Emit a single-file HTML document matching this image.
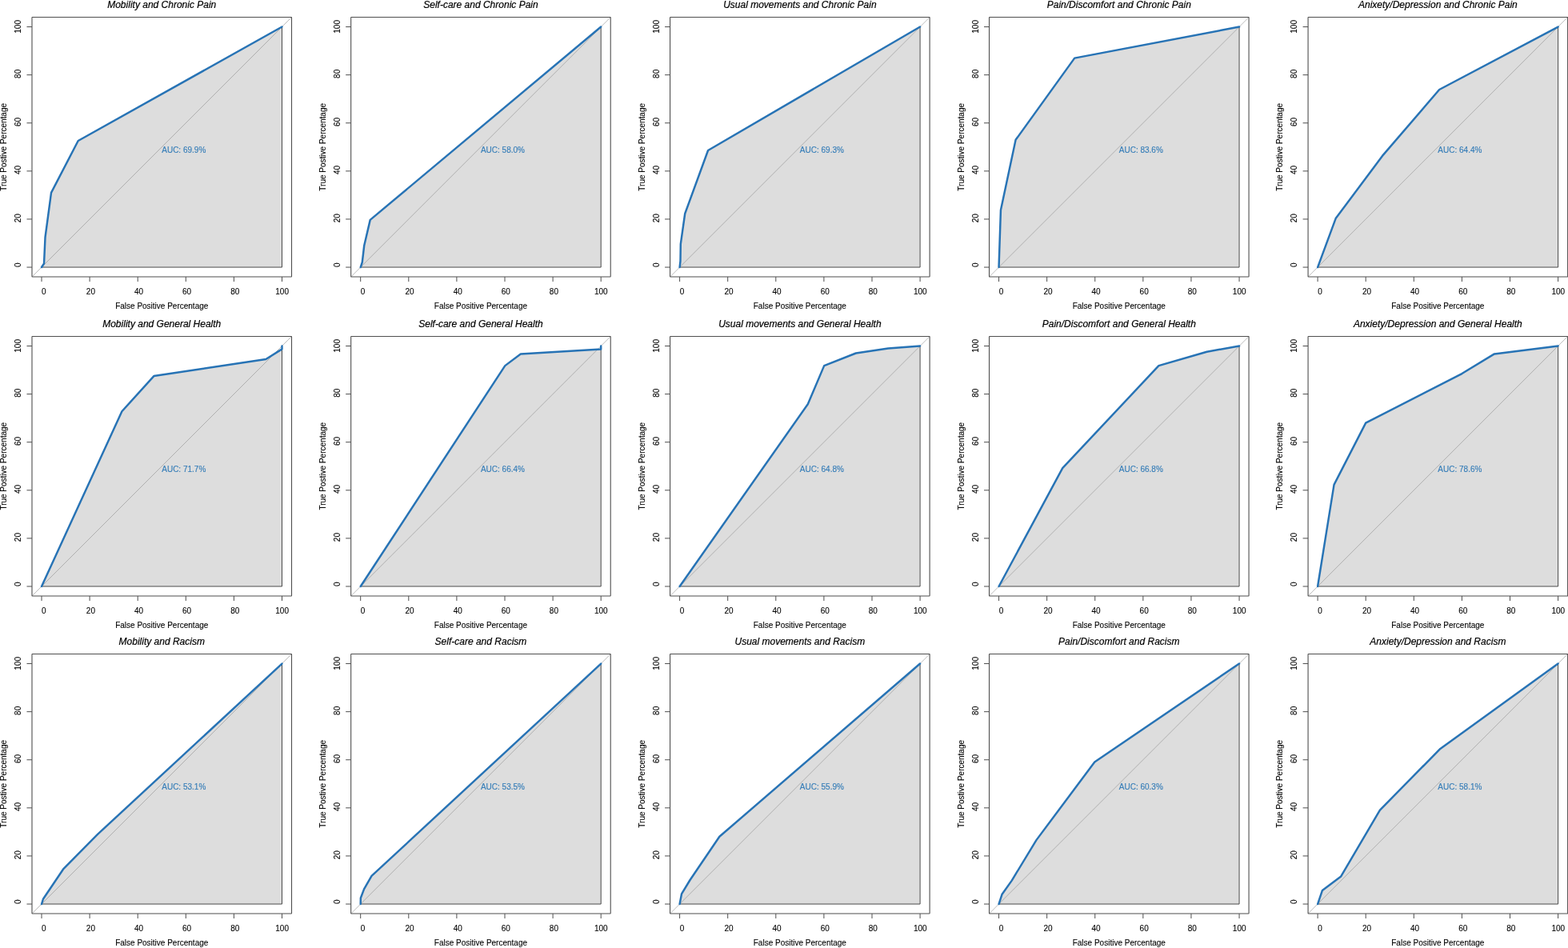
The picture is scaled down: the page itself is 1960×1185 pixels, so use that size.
<!DOCTYPE html>
<html lang="en">
<head>
<meta charset="utf-8">
<title>ROC curves</title>
<style>
html,body{margin:0;padding:0;background:#fff;}
body{width:1960px;height:1185px;overflow:hidden;}
svg{display:block;}
text{font-family:"Liberation Sans",sans-serif;font-size:10px;fill:#000000;stroke:#000000;stroke-width:0.1;}
.t{font-size:12px;font-style:italic;stroke-width:0.2;}
.a{fill:#377eb8;stroke:#377eb8;stroke-width:0.15;}
.bx{fill:none;stroke:#4f4f4f;stroke-width:1.1;}
.tk{fill:none;stroke:#4d4d4d;stroke-width:1;}
.pg{fill:#dddddd;stroke:none;}
.pb{fill:none;stroke:#424242;stroke-width:0.95;stroke-linejoin:round;stroke-linecap:round;}
.dg{fill:none;stroke:#969696;stroke-width:0.65;}
.rc{fill:none;stroke:#2773b5;stroke-width:2.45;stroke-linejoin:round;stroke-linecap:round;}
</style>
</head>
<body>
<svg width="1960" height="1185" viewBox="0 0 1960 1185">
<rect x="0" y="0" width="1960" height="1185" fill="#ffffff"/>
<g>
<text class="t" x="202.25" y="10" text-anchor="middle">Mobility and Chronic Pain</text>
<polygon class="pg" points="52,334.05 55.01,329.54 56.51,296.49 64.02,240.9 97.68,175.99 352.5,33.55 352.5,334.05"/>
<line class="dg" x1="39.98" y1="346.07" x2="364.52" y2="21.53"/>
<polyline class="pb" points="52,334.05 352.5,334.05 352.5,33.55"/>
<polyline class="rc" points="52,334.05 55.01,329.54 56.51,296.49 64.02,240.9 97.68,175.99 352.5,33.55"/>
<rect class="bx" x="39.98" y="21.53" width="324.54" height="324.54" rx="0.5"/>
<path class="tk" d="M52,346.07v6M39.98,334.05h-6.5M112.1,346.07v6M39.98,273.95h-6.5M172.2,346.07v6M39.98,213.85h-6.5M232.3,346.07v6M39.98,153.75h-6.5M292.4,346.07v6M39.98,93.65h-6.5M352.5,346.07v6M39.98,33.55h-6.5"/>
<text x="54.9" y="368" text-anchor="middle">0</text>
<text x="113.4" y="368" text-anchor="middle">20</text>
<text x="173.5" y="368" text-anchor="middle">40</text>
<text x="233.6" y="368" text-anchor="middle">60</text>
<text x="293.7" y="368" text-anchor="middle">80</text>
<text x="352.65" y="368" text-anchor="middle">100</text>
<text transform="translate(26,331.15) rotate(-90)" text-anchor="middle">0</text>
<text transform="translate(26,272.65) rotate(-90)" text-anchor="middle">20</text>
<text transform="translate(26,212.55) rotate(-90)" text-anchor="middle">40</text>
<text transform="translate(26,152.45) rotate(-90)" text-anchor="middle">60</text>
<text transform="translate(26,92.35) rotate(-90)" text-anchor="middle">80</text>
<text transform="translate(26,33.4) rotate(-90)" text-anchor="middle">100</text>
<text x="202.25" y="386" text-anchor="middle">False Positive Percentage</text>
<text transform="translate(8,183.8) rotate(-90)" text-anchor="middle">True Postive Percentage</text>
<text class="a" x="202.25" y="191">AUC: 69.9%</text>
</g>
<g>
<text class="t" x="600.95" y="10" text-anchor="middle">Self-care and Chronic Pain</text>
<polygon class="pg" points="450.7,334.05 452.8,327.74 455.21,307 462.72,274.85 751.2,33.55 751.2,334.05"/>
<line class="dg" x1="438.68" y1="346.07" x2="763.22" y2="21.53"/>
<polyline class="pb" points="450.7,334.05 751.2,334.05 751.2,33.55"/>
<polyline class="rc" points="450.7,334.05 452.8,327.74 455.21,307 462.72,274.85 751.2,33.55"/>
<rect class="bx" x="438.68" y="21.53" width="324.54" height="324.54" rx="0.5"/>
<path class="tk" d="M450.7,346.07v6M438.68,334.05h-6.5M510.8,346.07v6M438.68,273.95h-6.5M570.9,346.07v6M438.68,213.85h-6.5M631,346.07v6M438.68,153.75h-6.5M691.1,346.07v6M438.68,93.65h-6.5M751.2,346.07v6M438.68,33.55h-6.5"/>
<text x="453.6" y="368" text-anchor="middle">0</text>
<text x="512.1" y="368" text-anchor="middle">20</text>
<text x="572.2" y="368" text-anchor="middle">40</text>
<text x="632.3" y="368" text-anchor="middle">60</text>
<text x="692.4" y="368" text-anchor="middle">80</text>
<text x="751.35" y="368" text-anchor="middle">100</text>
<text transform="translate(425,331.15) rotate(-90)" text-anchor="middle">0</text>
<text transform="translate(425,272.65) rotate(-90)" text-anchor="middle">20</text>
<text transform="translate(425,212.55) rotate(-90)" text-anchor="middle">40</text>
<text transform="translate(425,152.45) rotate(-90)" text-anchor="middle">60</text>
<text transform="translate(425,92.35) rotate(-90)" text-anchor="middle">80</text>
<text transform="translate(425,33.4) rotate(-90)" text-anchor="middle">100</text>
<text x="600.95" y="386" text-anchor="middle">False Positive Percentage</text>
<text transform="translate(407,183.8) rotate(-90)" text-anchor="middle">True Postive Percentage</text>
<text class="a" x="600.95" y="191">AUC: 58.0%</text>
</g>
<g>
<text class="t" x="999.85" y="10" text-anchor="middle">Usual movements and Chronic Pain</text>
<polygon class="pg" points="849.6,334.05 850.5,326.24 850.8,305.2 856.21,267.04 885.06,188.01 1150.1,33.55 1150.1,334.05"/>
<line class="dg" x1="837.58" y1="346.07" x2="1162.12" y2="21.53"/>
<polyline class="pb" points="849.6,334.05 1150.1,334.05 1150.1,33.55"/>
<polyline class="rc" points="849.6,334.05 850.5,326.24 850.8,305.2 856.21,267.04 885.06,188.01 1150.1,33.55"/>
<rect class="bx" x="837.58" y="21.53" width="324.54" height="324.54" rx="0.5"/>
<path class="tk" d="M849.6,346.07v6M837.58,334.05h-6.5M909.7,346.07v6M837.58,273.95h-6.5M969.8,346.07v6M837.58,213.85h-6.5M1029.9,346.07v6M837.58,153.75h-6.5M1090,346.07v6M837.58,93.65h-6.5M1150.1,346.07v6M837.58,33.55h-6.5"/>
<text x="852.5" y="368" text-anchor="middle">0</text>
<text x="911" y="368" text-anchor="middle">20</text>
<text x="971.1" y="368" text-anchor="middle">40</text>
<text x="1031.2" y="368" text-anchor="middle">60</text>
<text x="1091.3" y="368" text-anchor="middle">80</text>
<text x="1150.25" y="368" text-anchor="middle">100</text>
<text transform="translate(824,331.15) rotate(-90)" text-anchor="middle">0</text>
<text transform="translate(824,272.65) rotate(-90)" text-anchor="middle">20</text>
<text transform="translate(824,212.55) rotate(-90)" text-anchor="middle">40</text>
<text transform="translate(824,152.45) rotate(-90)" text-anchor="middle">60</text>
<text transform="translate(824,92.35) rotate(-90)" text-anchor="middle">80</text>
<text transform="translate(824,33.4) rotate(-90)" text-anchor="middle">100</text>
<text x="999.85" y="386" text-anchor="middle">False Positive Percentage</text>
<text transform="translate(806,183.8) rotate(-90)" text-anchor="middle">True Postive Percentage</text>
<text class="a" x="999.85" y="191">AUC: 69.3%</text>
</g>
<g>
<text class="t" x="1398.8" y="10" text-anchor="middle">Pain/Discomfort and Chronic Pain</text>
<polygon class="pg" points="1248.55,334.05 1250.95,262.53 1269.59,174.79 1343.21,72.62 1549.05,33.55 1549.05,334.05"/>
<line class="dg" x1="1236.53" y1="346.07" x2="1561.07" y2="21.53"/>
<polyline class="pb" points="1248.55,334.05 1549.05,334.05 1549.05,33.55"/>
<polyline class="rc" points="1248.55,334.05 1250.95,262.53 1269.59,174.79 1343.21,72.62 1549.05,33.55"/>
<rect class="bx" x="1236.53" y="21.53" width="324.54" height="324.54" rx="0.5"/>
<path class="tk" d="M1248.55,346.07v6M1236.53,334.05h-6.5M1308.65,346.07v6M1236.53,273.95h-6.5M1368.75,346.07v6M1236.53,213.85h-6.5M1428.85,346.07v6M1236.53,153.75h-6.5M1488.95,346.07v6M1236.53,93.65h-6.5M1549.05,346.07v6M1236.53,33.55h-6.5"/>
<text x="1251.45" y="368" text-anchor="middle">0</text>
<text x="1309.95" y="368" text-anchor="middle">20</text>
<text x="1370.05" y="368" text-anchor="middle">40</text>
<text x="1430.15" y="368" text-anchor="middle">60</text>
<text x="1490.25" y="368" text-anchor="middle">80</text>
<text x="1549.2" y="368" text-anchor="middle">100</text>
<text transform="translate(1223,331.15) rotate(-90)" text-anchor="middle">0</text>
<text transform="translate(1223,272.65) rotate(-90)" text-anchor="middle">20</text>
<text transform="translate(1223,212.55) rotate(-90)" text-anchor="middle">40</text>
<text transform="translate(1223,152.45) rotate(-90)" text-anchor="middle">60</text>
<text transform="translate(1223,92.35) rotate(-90)" text-anchor="middle">80</text>
<text transform="translate(1223,33.4) rotate(-90)" text-anchor="middle">100</text>
<text x="1398.8" y="386" text-anchor="middle">False Positive Percentage</text>
<text transform="translate(1205,183.8) rotate(-90)" text-anchor="middle">True Postive Percentage</text>
<text class="a" x="1398.8" y="191">AUC: 83.6%</text>
</g>
<g>
<text class="t" x="1797.35" y="10" text-anchor="middle">Anixety/Depression and Chronic Pain</text>
<polygon class="pg" points="1647.1,334.05 1669.64,273.05 1727.93,194.92 1799.15,111.98 1947.6,33.55 1947.6,334.05"/>
<line class="dg" x1="1635.08" y1="346.07" x2="1959.62" y2="21.53"/>
<polyline class="pb" points="1647.1,334.05 1947.6,334.05 1947.6,33.55"/>
<polyline class="rc" points="1647.1,334.05 1669.64,273.05 1727.93,194.92 1799.15,111.98 1947.6,33.55"/>
<rect class="bx" x="1635.08" y="21.53" width="324.54" height="324.54" rx="0.5"/>
<path class="tk" d="M1647.1,346.07v6M1635.08,334.05h-6.5M1707.2,346.07v6M1635.08,273.95h-6.5M1767.3,346.07v6M1635.08,213.85h-6.5M1827.4,346.07v6M1635.08,153.75h-6.5M1887.5,346.07v6M1635.08,93.65h-6.5M1947.6,346.07v6M1635.08,33.55h-6.5"/>
<text x="1650" y="368" text-anchor="middle">0</text>
<text x="1708.5" y="368" text-anchor="middle">20</text>
<text x="1768.6" y="368" text-anchor="middle">40</text>
<text x="1828.7" y="368" text-anchor="middle">60</text>
<text x="1888.8" y="368" text-anchor="middle">80</text>
<text x="1947.75" y="368" text-anchor="middle">100</text>
<text transform="translate(1621,331.15) rotate(-90)" text-anchor="middle">0</text>
<text transform="translate(1621,272.65) rotate(-90)" text-anchor="middle">20</text>
<text transform="translate(1621,212.55) rotate(-90)" text-anchor="middle">40</text>
<text transform="translate(1621,152.45) rotate(-90)" text-anchor="middle">60</text>
<text transform="translate(1621,92.35) rotate(-90)" text-anchor="middle">80</text>
<text transform="translate(1621,33.4) rotate(-90)" text-anchor="middle">100</text>
<text x="1797.35" y="386" text-anchor="middle">False Positive Percentage</text>
<text transform="translate(1603,183.8) rotate(-90)" text-anchor="middle">True Postive Percentage</text>
<text class="a" x="1797.35" y="191">AUC: 64.4%</text>
</g>
<g>
<text class="t" x="202.25" y="409" text-anchor="middle">Mobility and General Health</text>
<polygon class="pg" points="52,733 152.37,514.24 192.33,470.06 332.37,449.03 352.5,436.41 352.5,432.5 352.5,733"/>
<line class="dg" x1="39.98" y1="745.02" x2="364.52" y2="420.48"/>
<polyline class="pb" points="52,733 352.5,733 352.5,432.5"/>
<polyline class="rc" points="52,733 152.37,514.24 192.33,470.06 332.37,449.03 352.5,436.41 352.5,432.5"/>
<rect class="bx" x="39.98" y="420.48" width="324.54" height="324.54" rx="0.5"/>
<path class="tk" d="M52,745.02v6M39.98,733h-6.5M112.1,745.02v6M39.98,672.9h-6.5M172.2,745.02v6M39.98,612.8h-6.5M232.3,745.02v6M39.98,552.7h-6.5M292.4,745.02v6M39.98,492.6h-6.5M352.5,745.02v6M39.98,432.5h-6.5"/>
<text x="54.9" y="767" text-anchor="middle">0</text>
<text x="113.4" y="767" text-anchor="middle">20</text>
<text x="173.5" y="767" text-anchor="middle">40</text>
<text x="233.6" y="767" text-anchor="middle">60</text>
<text x="293.7" y="767" text-anchor="middle">80</text>
<text x="352.65" y="767" text-anchor="middle">100</text>
<text transform="translate(26,730.1) rotate(-90)" text-anchor="middle">0</text>
<text transform="translate(26,671.6) rotate(-90)" text-anchor="middle">20</text>
<text transform="translate(26,611.5) rotate(-90)" text-anchor="middle">40</text>
<text transform="translate(26,551.4) rotate(-90)" text-anchor="middle">60</text>
<text transform="translate(26,491.3) rotate(-90)" text-anchor="middle">80</text>
<text transform="translate(26,432.35) rotate(-90)" text-anchor="middle">100</text>
<text x="202.25" y="785" text-anchor="middle">False Positive Percentage</text>
<text transform="translate(8,582.75) rotate(-90)" text-anchor="middle">True Postive Percentage</text>
<text class="a" x="202.25" y="589.95">AUC: 71.7%</text>
</g>
<g>
<text class="t" x="600.95" y="409" text-anchor="middle">Self-care and General Health</text>
<polygon class="pg" points="450.7,733 631.3,457.14 650.83,442.42 751.2,436.41 751.2,432.5 751.2,733"/>
<line class="dg" x1="438.68" y1="745.02" x2="763.22" y2="420.48"/>
<polyline class="pb" points="450.7,733 751.2,733 751.2,432.5"/>
<polyline class="rc" points="450.7,733 631.3,457.14 650.83,442.42 751.2,436.41 751.2,432.5"/>
<rect class="bx" x="438.68" y="420.48" width="324.54" height="324.54" rx="0.5"/>
<path class="tk" d="M450.7,745.02v6M438.68,733h-6.5M510.8,745.02v6M438.68,672.9h-6.5M570.9,745.02v6M438.68,612.8h-6.5M631,745.02v6M438.68,552.7h-6.5M691.1,745.02v6M438.68,492.6h-6.5M751.2,745.02v6M438.68,432.5h-6.5"/>
<text x="453.6" y="767" text-anchor="middle">0</text>
<text x="512.1" y="767" text-anchor="middle">20</text>
<text x="572.2" y="767" text-anchor="middle">40</text>
<text x="632.3" y="767" text-anchor="middle">60</text>
<text x="692.4" y="767" text-anchor="middle">80</text>
<text x="751.35" y="767" text-anchor="middle">100</text>
<text transform="translate(425,730.1) rotate(-90)" text-anchor="middle">0</text>
<text transform="translate(425,671.6) rotate(-90)" text-anchor="middle">20</text>
<text transform="translate(425,611.5) rotate(-90)" text-anchor="middle">40</text>
<text transform="translate(425,551.4) rotate(-90)" text-anchor="middle">60</text>
<text transform="translate(425,491.3) rotate(-90)" text-anchor="middle">80</text>
<text transform="translate(425,432.35) rotate(-90)" text-anchor="middle">100</text>
<text x="600.95" y="785" text-anchor="middle">False Positive Percentage</text>
<text transform="translate(407,582.75) rotate(-90)" text-anchor="middle">True Postive Percentage</text>
<text class="a" x="600.95" y="589.95">AUC: 66.4%</text>
</g>
<g>
<text class="t" x="999.85" y="409" text-anchor="middle">Usual movements and General Health</text>
<polygon class="pg" points="849.6,733 1009.77,505.22 1030.2,457.14 1069.87,441.51 1110.13,435.5 1150.1,432.5 1150.1,733"/>
<line class="dg" x1="837.58" y1="745.02" x2="1162.12" y2="420.48"/>
<polyline class="pb" points="849.6,733 1150.1,733 1150.1,432.5"/>
<polyline class="rc" points="849.6,733 1009.77,505.22 1030.2,457.14 1069.87,441.51 1110.13,435.5 1150.1,432.5"/>
<rect class="bx" x="837.58" y="420.48" width="324.54" height="324.54" rx="0.5"/>
<path class="tk" d="M849.6,745.02v6M837.58,733h-6.5M909.7,745.02v6M837.58,672.9h-6.5M969.8,745.02v6M837.58,612.8h-6.5M1029.9,745.02v6M837.58,552.7h-6.5M1090,745.02v6M837.58,492.6h-6.5M1150.1,745.02v6M837.58,432.5h-6.5"/>
<text x="852.5" y="767" text-anchor="middle">0</text>
<text x="911" y="767" text-anchor="middle">20</text>
<text x="971.1" y="767" text-anchor="middle">40</text>
<text x="1031.2" y="767" text-anchor="middle">60</text>
<text x="1091.3" y="767" text-anchor="middle">80</text>
<text x="1150.25" y="767" text-anchor="middle">100</text>
<text transform="translate(824,730.1) rotate(-90)" text-anchor="middle">0</text>
<text transform="translate(824,671.6) rotate(-90)" text-anchor="middle">20</text>
<text transform="translate(824,611.5) rotate(-90)" text-anchor="middle">40</text>
<text transform="translate(824,551.4) rotate(-90)" text-anchor="middle">60</text>
<text transform="translate(824,491.3) rotate(-90)" text-anchor="middle">80</text>
<text transform="translate(824,432.35) rotate(-90)" text-anchor="middle">100</text>
<text x="999.85" y="785" text-anchor="middle">False Positive Percentage</text>
<text transform="translate(806,582.75) rotate(-90)" text-anchor="middle">True Postive Percentage</text>
<text class="a" x="999.85" y="589.95">AUC: 64.8%</text>
</g>
<g>
<text class="t" x="1398.8" y="409" text-anchor="middle">Pain/Discomfort and General Health</text>
<polygon class="pg" points="1248.55,733 1328.18,585.15 1448.38,457.14 1508.48,439.71 1549.05,432.5 1549.05,733"/>
<line class="dg" x1="1236.53" y1="745.02" x2="1561.07" y2="420.48"/>
<polyline class="pb" points="1248.55,733 1549.05,733 1549.05,432.5"/>
<polyline class="rc" points="1248.55,733 1328.18,585.15 1448.38,457.14 1508.48,439.71 1549.05,432.5"/>
<rect class="bx" x="1236.53" y="420.48" width="324.54" height="324.54" rx="0.5"/>
<path class="tk" d="M1248.55,745.02v6M1236.53,733h-6.5M1308.65,745.02v6M1236.53,672.9h-6.5M1368.75,745.02v6M1236.53,612.8h-6.5M1428.85,745.02v6M1236.53,552.7h-6.5M1488.95,745.02v6M1236.53,492.6h-6.5M1549.05,745.02v6M1236.53,432.5h-6.5"/>
<text x="1251.45" y="767" text-anchor="middle">0</text>
<text x="1309.95" y="767" text-anchor="middle">20</text>
<text x="1370.05" y="767" text-anchor="middle">40</text>
<text x="1430.15" y="767" text-anchor="middle">60</text>
<text x="1490.25" y="767" text-anchor="middle">80</text>
<text x="1549.2" y="767" text-anchor="middle">100</text>
<text transform="translate(1223,730.1) rotate(-90)" text-anchor="middle">0</text>
<text transform="translate(1223,671.6) rotate(-90)" text-anchor="middle">20</text>
<text transform="translate(1223,611.5) rotate(-90)" text-anchor="middle">40</text>
<text transform="translate(1223,551.4) rotate(-90)" text-anchor="middle">60</text>
<text transform="translate(1223,491.3) rotate(-90)" text-anchor="middle">80</text>
<text transform="translate(1223,432.35) rotate(-90)" text-anchor="middle">100</text>
<text x="1398.8" y="785" text-anchor="middle">False Positive Percentage</text>
<text transform="translate(1205,582.75) rotate(-90)" text-anchor="middle">True Postive Percentage</text>
<text class="a" x="1398.8" y="589.95">AUC: 66.8%</text>
</g>
<g>
<text class="t" x="1797.35" y="409" text-anchor="middle">Anxiety/Depression and General Health</text>
<polygon class="pg" points="1647.1,733 1667.53,605.89 1707.2,528.66 1827.4,467.06 1867.97,442.42 1947.6,432.5 1947.6,733"/>
<line class="dg" x1="1635.08" y1="745.02" x2="1959.62" y2="420.48"/>
<polyline class="pb" points="1647.1,733 1947.6,733 1947.6,432.5"/>
<polyline class="rc" points="1647.1,733 1667.53,605.89 1707.2,528.66 1827.4,467.06 1867.97,442.42 1947.6,432.5"/>
<rect class="bx" x="1635.08" y="420.48" width="324.54" height="324.54" rx="0.5"/>
<path class="tk" d="M1647.1,745.02v6M1635.08,733h-6.5M1707.2,745.02v6M1635.08,672.9h-6.5M1767.3,745.02v6M1635.08,612.8h-6.5M1827.4,745.02v6M1635.08,552.7h-6.5M1887.5,745.02v6M1635.08,492.6h-6.5M1947.6,745.02v6M1635.08,432.5h-6.5"/>
<text x="1650" y="767" text-anchor="middle">0</text>
<text x="1708.5" y="767" text-anchor="middle">20</text>
<text x="1768.6" y="767" text-anchor="middle">40</text>
<text x="1828.7" y="767" text-anchor="middle">60</text>
<text x="1888.8" y="767" text-anchor="middle">80</text>
<text x="1947.75" y="767" text-anchor="middle">100</text>
<text transform="translate(1621,730.1) rotate(-90)" text-anchor="middle">0</text>
<text transform="translate(1621,671.6) rotate(-90)" text-anchor="middle">20</text>
<text transform="translate(1621,611.5) rotate(-90)" text-anchor="middle">40</text>
<text transform="translate(1621,551.4) rotate(-90)" text-anchor="middle">60</text>
<text transform="translate(1621,491.3) rotate(-90)" text-anchor="middle">80</text>
<text transform="translate(1621,432.35) rotate(-90)" text-anchor="middle">100</text>
<text x="1797.35" y="785" text-anchor="middle">False Positive Percentage</text>
<text transform="translate(1603,582.75) rotate(-90)" text-anchor="middle">True Postive Percentage</text>
<text class="a" x="1797.35" y="589.95">AUC: 78.6%</text>
</g>
<g>
<text class="t" x="202.25" y="806" text-anchor="middle">Mobility and Racism</text>
<polygon class="pg" points="52,1130.05 53.95,1123.74 79.05,1086.48 122.02,1042.9 352.5,829.55 352.5,1130.05"/>
<line class="dg" x1="39.98" y1="1142.07" x2="364.52" y2="817.53"/>
<polyline class="pb" points="52,1130.05 352.5,1130.05 352.5,829.55"/>
<polyline class="rc" points="52,1130.05 53.95,1123.74 79.05,1086.48 122.02,1042.9 352.5,829.55"/>
<rect class="bx" x="39.98" y="817.53" width="324.54" height="324.54" rx="0.5"/>
<path class="tk" d="M52,1142.07v6M39.98,1130.05h-6.5M112.1,1142.07v6M39.98,1069.95h-6.5M172.2,1142.07v6M39.98,1009.85h-6.5M232.3,1142.07v6M39.98,949.75h-6.5M292.4,1142.07v6M39.98,889.65h-6.5M352.5,1142.07v6M39.98,829.55h-6.5"/>
<text x="54.9" y="1164" text-anchor="middle">0</text>
<text x="113.4" y="1164" text-anchor="middle">20</text>
<text x="173.5" y="1164" text-anchor="middle">40</text>
<text x="233.6" y="1164" text-anchor="middle">60</text>
<text x="293.7" y="1164" text-anchor="middle">80</text>
<text x="352.65" y="1164" text-anchor="middle">100</text>
<text transform="translate(26,1127.15) rotate(-90)" text-anchor="middle">0</text>
<text transform="translate(26,1068.65) rotate(-90)" text-anchor="middle">20</text>
<text transform="translate(26,1008.55) rotate(-90)" text-anchor="middle">40</text>
<text transform="translate(26,948.45) rotate(-90)" text-anchor="middle">60</text>
<text transform="translate(26,888.35) rotate(-90)" text-anchor="middle">80</text>
<text transform="translate(26,829.4) rotate(-90)" text-anchor="middle">100</text>
<text x="202.25" y="1182" text-anchor="middle">False Positive Percentage</text>
<text transform="translate(8,979.8) rotate(-90)" text-anchor="middle">True Postive Percentage</text>
<text class="a" x="202.25" y="987">AUC: 53.1%</text>
</g>
<g>
<text class="t" x="600.95" y="806" text-anchor="middle">Self-care and Racism</text>
<polygon class="pg" points="450.7,1130.05 450.85,1122.54 455.06,1111.42 464.52,1094.89 751.2,829.55 751.2,1130.05"/>
<line class="dg" x1="438.68" y1="1142.07" x2="763.22" y2="817.53"/>
<polyline class="pb" points="450.7,1130.05 751.2,1130.05 751.2,829.55"/>
<polyline class="rc" points="450.7,1130.05 450.85,1122.54 455.06,1111.42 464.52,1094.89 751.2,829.55"/>
<rect class="bx" x="438.68" y="817.53" width="324.54" height="324.54" rx="0.5"/>
<path class="tk" d="M450.7,1142.07v6M438.68,1130.05h-6.5M510.8,1142.07v6M438.68,1069.95h-6.5M570.9,1142.07v6M438.68,1009.85h-6.5M631,1142.07v6M438.68,949.75h-6.5M691.1,1142.07v6M438.68,889.65h-6.5M751.2,1142.07v6M438.68,829.55h-6.5"/>
<text x="453.6" y="1164" text-anchor="middle">0</text>
<text x="512.1" y="1164" text-anchor="middle">20</text>
<text x="572.2" y="1164" text-anchor="middle">40</text>
<text x="632.3" y="1164" text-anchor="middle">60</text>
<text x="692.4" y="1164" text-anchor="middle">80</text>
<text x="751.35" y="1164" text-anchor="middle">100</text>
<text transform="translate(425,1127.15) rotate(-90)" text-anchor="middle">0</text>
<text transform="translate(425,1068.65) rotate(-90)" text-anchor="middle">20</text>
<text transform="translate(425,1008.55) rotate(-90)" text-anchor="middle">40</text>
<text transform="translate(425,948.45) rotate(-90)" text-anchor="middle">60</text>
<text transform="translate(425,888.35) rotate(-90)" text-anchor="middle">80</text>
<text transform="translate(425,829.4) rotate(-90)" text-anchor="middle">100</text>
<text x="600.95" y="1182" text-anchor="middle">False Positive Percentage</text>
<text transform="translate(407,979.8) rotate(-90)" text-anchor="middle">True Postive Percentage</text>
<text class="a" x="600.95" y="987">AUC: 53.5%</text>
</g>
<g>
<text class="t" x="999.85" y="806" text-anchor="middle">Usual movements and Racism</text>
<polygon class="pg" points="849.6,1130.05 852,1117.43 862.52,1100 899.33,1045.76 1150.1,829.55 1150.1,1130.05"/>
<line class="dg" x1="837.58" y1="1142.07" x2="1162.12" y2="817.53"/>
<polyline class="pb" points="849.6,1130.05 1150.1,1130.05 1150.1,829.55"/>
<polyline class="rc" points="849.6,1130.05 852,1117.43 862.52,1100 899.33,1045.76 1150.1,829.55"/>
<rect class="bx" x="837.58" y="817.53" width="324.54" height="324.54" rx="0.5"/>
<path class="tk" d="M849.6,1142.07v6M837.58,1130.05h-6.5M909.7,1142.07v6M837.58,1069.95h-6.5M969.8,1142.07v6M837.58,1009.85h-6.5M1029.9,1142.07v6M837.58,949.75h-6.5M1090,1142.07v6M837.58,889.65h-6.5M1150.1,1142.07v6M837.58,829.55h-6.5"/>
<text x="852.5" y="1164" text-anchor="middle">0</text>
<text x="911" y="1164" text-anchor="middle">20</text>
<text x="971.1" y="1164" text-anchor="middle">40</text>
<text x="1031.2" y="1164" text-anchor="middle">60</text>
<text x="1091.3" y="1164" text-anchor="middle">80</text>
<text x="1150.25" y="1164" text-anchor="middle">100</text>
<text transform="translate(824,1127.15) rotate(-90)" text-anchor="middle">0</text>
<text transform="translate(824,1068.65) rotate(-90)" text-anchor="middle">20</text>
<text transform="translate(824,1008.55) rotate(-90)" text-anchor="middle">40</text>
<text transform="translate(824,948.45) rotate(-90)" text-anchor="middle">60</text>
<text transform="translate(824,888.35) rotate(-90)" text-anchor="middle">80</text>
<text transform="translate(824,829.4) rotate(-90)" text-anchor="middle">100</text>
<text x="999.85" y="1182" text-anchor="middle">False Positive Percentage</text>
<text transform="translate(806,979.8) rotate(-90)" text-anchor="middle">True Postive Percentage</text>
<text class="a" x="999.85" y="987">AUC: 55.9%</text>
</g>
<g>
<text class="t" x="1398.8" y="806" text-anchor="middle">Pain/Discomfort and Racism</text>
<polygon class="pg" points="1248.55,1130.05 1252.46,1118.03 1264.78,1100.6 1295.43,1050.12 1368.3,952.45 1549.05,829.55 1549.05,1130.05"/>
<line class="dg" x1="1236.53" y1="1142.07" x2="1561.07" y2="817.53"/>
<polyline class="pb" points="1248.55,1130.05 1549.05,1130.05 1549.05,829.55"/>
<polyline class="rc" points="1248.55,1130.05 1252.46,1118.03 1264.78,1100.6 1295.43,1050.12 1368.3,952.45 1549.05,829.55"/>
<rect class="bx" x="1236.53" y="817.53" width="324.54" height="324.54" rx="0.5"/>
<path class="tk" d="M1248.55,1142.07v6M1236.53,1130.05h-6.5M1308.65,1142.07v6M1236.53,1069.95h-6.5M1368.75,1142.07v6M1236.53,1009.85h-6.5M1428.85,1142.07v6M1236.53,949.75h-6.5M1488.95,1142.07v6M1236.53,889.65h-6.5M1549.05,1142.07v6M1236.53,829.55h-6.5"/>
<text x="1251.45" y="1164" text-anchor="middle">0</text>
<text x="1309.95" y="1164" text-anchor="middle">20</text>
<text x="1370.05" y="1164" text-anchor="middle">40</text>
<text x="1430.15" y="1164" text-anchor="middle">60</text>
<text x="1490.25" y="1164" text-anchor="middle">80</text>
<text x="1549.2" y="1164" text-anchor="middle">100</text>
<text transform="translate(1223,1127.15) rotate(-90)" text-anchor="middle">0</text>
<text transform="translate(1223,1068.65) rotate(-90)" text-anchor="middle">20</text>
<text transform="translate(1223,1008.55) rotate(-90)" text-anchor="middle">40</text>
<text transform="translate(1223,948.45) rotate(-90)" text-anchor="middle">60</text>
<text transform="translate(1223,888.35) rotate(-90)" text-anchor="middle">80</text>
<text transform="translate(1223,829.4) rotate(-90)" text-anchor="middle">100</text>
<text x="1398.8" y="1182" text-anchor="middle">False Positive Percentage</text>
<text transform="translate(1205,979.8) rotate(-90)" text-anchor="middle">True Postive Percentage</text>
<text class="a" x="1398.8" y="987">AUC: 60.3%</text>
</g>
<g>
<text class="t" x="1797.35" y="806" text-anchor="middle">Anxiety/Depression and Racism</text>
<polygon class="pg" points="1647.1,1130.05 1652.96,1112.92 1676.25,1095.49 1724.93,1012.55 1800.36,935.93 1947.6,829.55 1947.6,1130.05"/>
<line class="dg" x1="1635.08" y1="1142.07" x2="1959.62" y2="817.53"/>
<polyline class="pb" points="1647.1,1130.05 1947.6,1130.05 1947.6,829.55"/>
<polyline class="rc" points="1647.1,1130.05 1652.96,1112.92 1676.25,1095.49 1724.93,1012.55 1800.36,935.93 1947.6,829.55"/>
<rect class="bx" x="1635.08" y="817.53" width="324.54" height="324.54" rx="0.5"/>
<path class="tk" d="M1647.1,1142.07v6M1635.08,1130.05h-6.5M1707.2,1142.07v6M1635.08,1069.95h-6.5M1767.3,1142.07v6M1635.08,1009.85h-6.5M1827.4,1142.07v6M1635.08,949.75h-6.5M1887.5,1142.07v6M1635.08,889.65h-6.5M1947.6,1142.07v6M1635.08,829.55h-6.5"/>
<text x="1650" y="1164" text-anchor="middle">0</text>
<text x="1708.5" y="1164" text-anchor="middle">20</text>
<text x="1768.6" y="1164" text-anchor="middle">40</text>
<text x="1828.7" y="1164" text-anchor="middle">60</text>
<text x="1888.8" y="1164" text-anchor="middle">80</text>
<text x="1947.75" y="1164" text-anchor="middle">100</text>
<text transform="translate(1621,1127.15) rotate(-90)" text-anchor="middle">0</text>
<text transform="translate(1621,1068.65) rotate(-90)" text-anchor="middle">20</text>
<text transform="translate(1621,1008.55) rotate(-90)" text-anchor="middle">40</text>
<text transform="translate(1621,948.45) rotate(-90)" text-anchor="middle">60</text>
<text transform="translate(1621,888.35) rotate(-90)" text-anchor="middle">80</text>
<text transform="translate(1621,829.4) rotate(-90)" text-anchor="middle">100</text>
<text x="1797.35" y="1182" text-anchor="middle">False Positive Percentage</text>
<text transform="translate(1603,979.8) rotate(-90)" text-anchor="middle">True Postive Percentage</text>
<text class="a" x="1797.35" y="987">AUC: 58.1%</text>
</g>
</svg>
</body>
</html>
